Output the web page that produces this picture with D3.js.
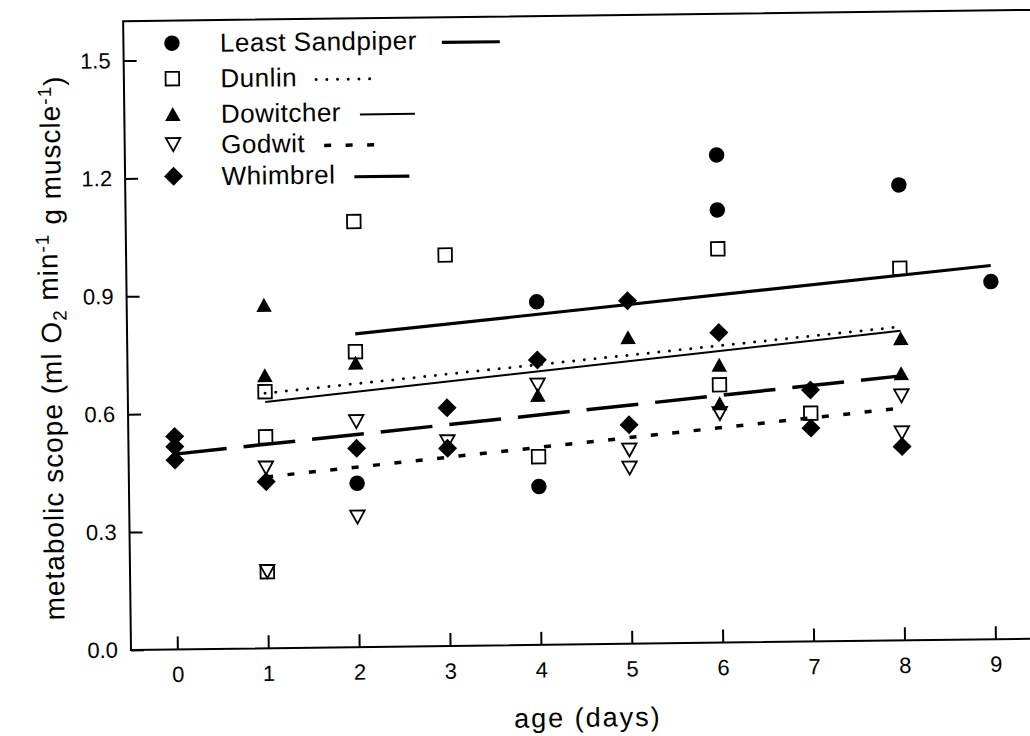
<!DOCTYPE html>
<html><head><meta charset="utf-8">
<script src="https://cdn.jsdelivr.net/npm/d3@7"></script>
<style>
html,body{margin:0;padding:0;background:#fff;}
svg{display:block;font-family:"Liberation Sans",Arial,Helvetica,sans-serif;}
</style></head><body>
<svg id="chart" width="1030" height="736"></svg>
<script>
// ---------- data ----------
const species = ["Least Sandpiper","Dunlin","Dowitcher","Godwit","Whimbrel"];
const sandpiperDays   = [2,4,4,6,6,8,9];
const sandpiperValues = [0.417,0.873,0.403,1.241,1.101,1.159,0.910];
const dunlinDays   = [1,1,1,2,2,3,4,6,6,7,8];
const dunlinValues = [0.653,0.538,0.195,1.083,0.752,0.995,0.479,1.002,0.656,0.581,0.947];
const dowitcherDays   = [1,1,2,4,5,6,6,8,8];
const dowitcherValues = [0.874,0.695,0.724,0.636,0.780,0.707,0.609,0.769,0.680];
const godwitDays   = [1,1,2,2,3,4,5,5,6,8,8];
const godwitValues = [0.459,0.195,0.574,0.331,0.520,0.661,0.493,0.447,0.583,0.622,0.528];
const whimbrelDays   = [0,0,0,1,2,3,3,4,5,5,6,7,7,8];
const whimbrelValues = [0.542,0.516,0.482,0.424,0.506,0.606,0.503,0.725,0.873,0.557,0.789,0.640,0.543,0.493];
// regression line end points (day, value)
const fitDays   = [[2,9],[1,8],[1,8],[1,8],[0,8]];
const fitValues = [[0.797,0.951],[0.649,0.798],[0.627,0.788],[0.436,0.591],[0.497,0.673]];
const xTicks = [0,1,2,3,4,5,6,7,8,9];
const yTicks = [0,0.3,0.6,0.9,1.2,1.5];
const xTitle = "age (days)";

// ---------- layout / style ----------
const L = 131, R = 1040, T = 21.2, B = 650;
const svg = d3.select("#chart");
svg.append("rect").attr("width",1030).attr("height",736).attr("fill","#fff");
const g = svg.append("g").attr("transform","rotate(-0.716,131,650)");

const x = d3.scaleLinear().domain([-0.51, 9.49]).range([L, R]);
const y = d3.scaleLinear().domain([0, 1.6]).range([B, T]);

const styles = [
  {sym:"circle",  w:15.5, fill:"#000", stroke:"none", sw:0, lw:3.2, dash:null, cap:"butt"},
  {sym:"square",  w:13.5, fill:"none", stroke:"#000", sw:1.8, lw:3.0, dash:"0,10.7", cap:"round"},
  {sym:"triUp",   w:15.5, fill:"#000", stroke:"none", sw:0, lw:2.0, dash:null, cap:"butt"},
  {sym:"triDown", w:14.5, fill:"none", stroke:"#000", sw:1.8, lw:3.5, dash:"7,14.5", cap:"butt"},
  {sym:"diamond", w:19,   fill:"#000", stroke:"none", sw:0, lw:3.5, dash:"52,17", cap:"butt"}
];
function symType(kind){
  return {draw(ctx, size){
    const w = Math.sqrt(size), r = w/2, h = w*0.9;
    if(kind==="circle"){ ctx.moveTo(r,0); ctx.arc(0,0,r,0,2*Math.PI); }
    else if(kind==="square"){ ctx.rect(-r,-r,w,w); }
    else if(kind==="triUp"){ ctx.moveTo(0,-h/2); ctx.lineTo(r,h/2); ctx.lineTo(-r,h/2); ctx.closePath(); }
    else if(kind==="triDown"){ ctx.moveTo(0,h/2); ctx.lineTo(r,-h/2); ctx.lineTo(-r,-h/2); ctx.closePath(); }
    else { ctx.moveTo(0,-r); ctx.lineTo(r,0); ctx.lineTo(0,r); ctx.lineTo(-r,0); ctx.closePath(); }
  }};
}
function sym(i){ return d3.symbol().type(symType(styles[i].sym)).size(styles[i].w*styles[i].w)(); }

// ---------- frame & axes ----------
g.append("rect").attr("x",L).attr("y",T).attr("width",R-L).attr("height",B-T)
  .attr("fill","none").attr("stroke","#000").attr("stroke-width",2);

const yAxis = g.append("g").attr("transform",`translate(${L},0)`)
  .call(d3.axisLeft(y).tickValues(yTicks).tickFormat(d3.format(".1f")).tickSizeInner(-13).tickSizeOuter(0).tickPadding(13));
const xAxis = g.append("g").attr("transform",`translate(0,${B})`)
  .call(d3.axisBottom(x).tickValues(xTicks).tickFormat(d3.format("d")).tickSizeInner(-13).tickSizeOuter(0).tickPadding(17));
[xAxis,yAxis].forEach(a=>{
  a.select(".domain").remove();
  a.selectAll(".tick line").attr("stroke","#000").attr("stroke-width",2);
  a.selectAll(".tick text").attr("fill","#000").style("font-size","22px")
   .style("font-family",'"Liberation Sans",Arial,sans-serif');
});

// ---------- regression lines ----------
const line = d3.line().x(d=>x(d[0])).y(d=>y(d[1]));
species.forEach((s,i)=>{
  const pts = fitDays[i].map((d,j)=>[d, fitValues[i][j]]);
  const st = styles[i];
  g.append("path").attr("d", line(pts)).attr("fill","none").attr("stroke","#000")
    .attr("stroke-width", st.lw).attr("stroke-dasharray", st.dash).attr("stroke-linecap", st.cap);
});

// ---------- points ----------
const allDays = [sandpiperDays, dunlinDays, dowitcherDays, godwitDays, whimbrelDays];
const allValues = [sandpiperValues, dunlinValues, dowitcherValues, godwitValues, whimbrelValues];
species.forEach((s,i)=>{
  const st = styles[i];
  const data = allDays[i].map((d,j)=>({day:d, v:allValues[i][j]}));
  g.append("g").selectAll("path").data(data).join("path")
    .attr("d", sym(i))
    .attr("transform", d=>`translate(${x(d.day)},${y(d.v)})`)
    .attr("fill", st.fill).attr("stroke", st.stroke).attr("stroke-width", st.sw);
});

// ---------- legend ----------
const legBase = [52.9, 88.4, 123.8, 154.4, 186.1];
const leg = g.append("g");
species.forEach((s,i)=>{
  const st = styles[i];
  const by = legBase[i];
  leg.append("path").attr("d", sym(i)).attr("transform",`translate(179.5,${by-9.2})`)
    .attr("fill", st.fill).attr("stroke", st.stroke).attr("stroke-width", st.sw);
  const t = leg.append("text").attr("x",227.5).attr("y",by).text(s)
    .style("font-size","26px").style("letter-spacing","0.5px").attr("fill","#000");
  const tl = t.node().getComputedTextLength();
  const x0 = 227.5 + tl + (i===0 ? 25 : 19);
  leg.append("line").attr("x1",x0).attr("x2",x0 + (i===0?58:55))
    .attr("y1",by-6.5).attr("y2",by-6.5)
    .attr("stroke","#000").attr("stroke-width", i===4?3.2:st.lw)
    .attr("stroke-dasharray", i===4?null:st.dash).attr("stroke-linecap", st.cap);
});

// ---------- axis titles ----------
g.append("text").attr("x",587).attr("y",732.5).attr("text-anchor","middle")
  .style("font-size","27px").style("letter-spacing","2px").attr("fill","#000").text(xTitle);

const yt = g.append("text").attr("transform","translate(65,347) rotate(-90)")
  .attr("text-anchor","middle").style("font-size","28px").style("letter-spacing","1px").attr("fill","#000");
yt.append("tspan").text("metabolic scope (ml O");
yt.append("tspan").attr("dy","0.3em").style("font-size","19px").text("2");
yt.append("tspan").attr("dy","-0.3em").text(" min");
yt.append("tspan").attr("dy","-0.45em").style("font-size","19px").text("-1");
yt.append("tspan").attr("dy","0.45em").text(" g muscle");
yt.append("tspan").attr("dy","-0.45em").style("font-size","19px").text("-1");
yt.append("tspan").attr("dy","0.45em").text(")");
</script>
</body></html>
